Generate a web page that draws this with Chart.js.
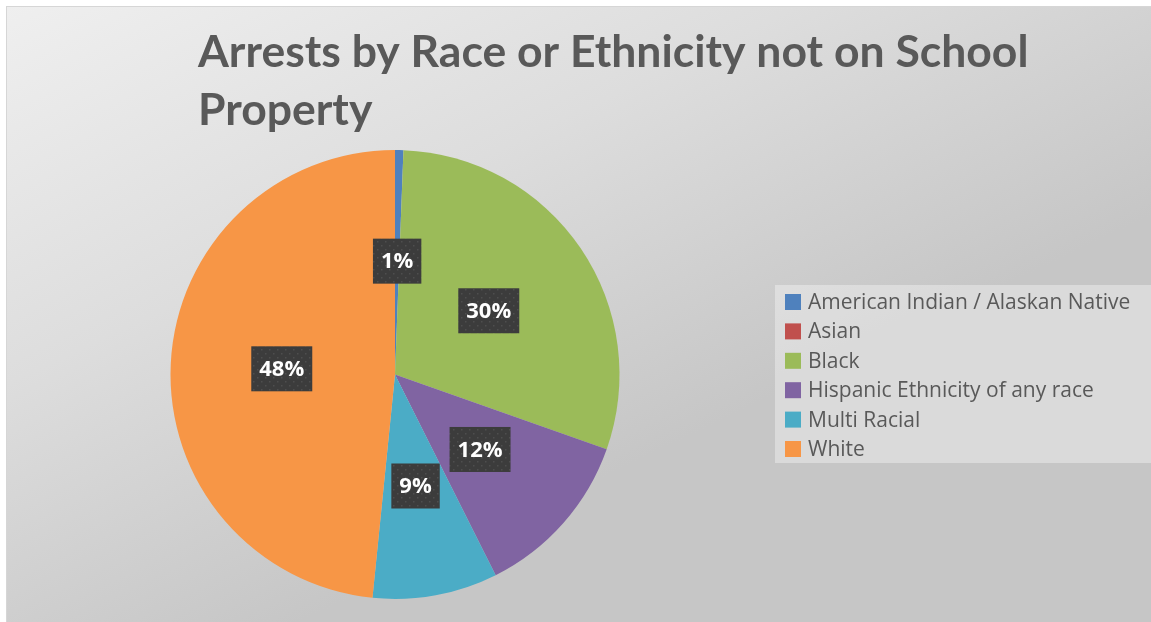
<!DOCTYPE html>
<html>
<head>
<meta charset="utf-8">
<script src="https://cdn.jsdelivr.net/npm/chart.js@4/dist/chart.umd.min.js"></script>
<style>
  html, body { margin: 0; padding: 0; background: #ffffff; overflow: hidden; }
  #wrap { position: relative; width: 1151px; height: 622px; }
  canvas { display: block; }
</style>
</head>
<body>
<div id="wrap"><canvas id="chart" width="1151" height="622"></canvas></div>
<script>
// Share of arrests (percent) by race or ethnicity, not on school property
const categories = [
  'American Indian / Alaskan Native',
  'Asian',
  'Black',
  'Hispanic Ethnicity of any race',
  'Multi Racial',
  'White'
];
const shares = [0.6, 0, 29.8, 12.2, 9.0, 48.4];
const sliceColors = ['#4F81BD', '#C0504D', '#9BBB59', '#8064A2', '#4BACC6', '#F79646'];
const titleLines = ['Arrests by Race or Ethnicity not on School', 'Property'];

const W = 1151, H = 622;

// Dark dotted fill used behind the percentage labels
function makeLabelPattern(ctx) {
  const tile = document.createElement('canvas');
  tile.width = 8; tile.height = 8;
  const t = tile.getContext('2d');
  t.fillStyle = '#3c3c3c';
  t.fillRect(0, 0, 8, 8);
  t.fillStyle = '#4e4e4e';
  t.fillRect(1, 1, 1.5, 1.5);
  t.fillRect(5, 5, 1.5, 1.5);
  return ctx.createPattern(tile, 'repeat');
}

const backgroundPlugin = {
  id: 'panelBackground',
  beforeDraw(chart) {
    const ctx = chart.ctx;
    ctx.save();
    ctx.fillStyle = '#ffffff';
    ctx.fillRect(0, 0, W, H);
    const g = ctx.createLinearGradient(6, 6, 300, H);
    g.addColorStop(0, '#efefef');
    g.addColorStop(0.5, '#dddddd');
    g.addColorStop(1, '#c6c6c6');
    ctx.fillStyle = g;
    ctx.fillRect(6, 6, W - 6, H - 6);
    ctx.strokeStyle = '#d6d6d6';
    ctx.lineWidth = 1;
    ctx.strokeRect(6.5, 6.5, W, H);
    ctx.restore();
  }
};

const titlePlugin = {
  id: 'panelTitle',
  afterDraw(chart) {
    const ctx = chart.ctx;
    ctx.save();
    ctx.fillStyle = '#595959';
    ctx.font = 'bold 44.5px Lato';
    ctx.textAlign = 'left';
    ctx.textBaseline = 'alphabetic';
    ctx.fillText(titleLines[0], 198, 67);
    ctx.fillText(titleLines[1], 198, 125);
    ctx.restore();
  }
};

const legendPlugin = {
  id: 'sideLegend',
  afterDraw(chart) {
    const ctx = chart.ctx;
    ctx.save();
    ctx.fillStyle = 'rgba(255,255,255,0.35)';
    ctx.fillRect(775, 285, W - 775, 178);
    ctx.font = '21px "Open Sans"';
    ctx.textAlign = 'left';
    ctx.textBaseline = 'middle';
    categories.forEach((name, i) => {
      const cy = 302 + i * 29.4;
      ctx.fillStyle = sliceColors[i];
      ctx.fillRect(785, cy - 8, 16, 16);
      ctx.fillStyle = '#595959';
      ctx.fillText(name, 808, cy + 1);
    });
    ctx.restore();
  }
};

const labelPlugin = {
  id: 'percentLabels',
  afterDatasetsDraw(chart) {
    const ctx = chart.ctx;
    const values = chart.data.datasets[0].data;
    const total = values.reduce((a, b) => a + b, 0);
    const meta = chart.getDatasetMeta(0);
    const pattern = makeLabelPattern(ctx);
    ctx.save();
    ctx.font = 'bold 22px "Open Sans"';
    ctx.textAlign = 'center';
    ctx.textBaseline = 'middle';
    meta.data.forEach((arc, i) => {
      if (!values[i]) return;
      const p = arc.getProps(['x', 'y', 'startAngle', 'endAngle', 'outerRadius'], true);
      const mid = (p.startAngle + p.endAngle) / 2;
      const r = p.outerRadius * 0.505;
      const cx = p.x + Math.cos(mid) * r;
      const cy = p.y + Math.sin(mid) * r;
      const text = Math.round(values[i] / total * 100) + '%';
      const bw = ctx.measureText(text).width + 16;
      const bh = 45;
      ctx.fillStyle = pattern;
      ctx.fillRect(cx - bw / 2, cy - bh / 2, bw, bh);
      ctx.fillStyle = '#ffffff';
      ctx.fillText(text, cx, cy + 1);
    });
    ctx.restore();
  }
};

new Chart(document.getElementById('chart'), {
  type: 'pie',
  data: {
    labels: categories,
    datasets: [{
      data: shares,
      backgroundColor: sliceColors,
      borderWidth: 0
    }]
  },
  options: {
    responsive: false,
    animation: false,
    devicePixelRatio: 1,
    layout: { padding: { left: 170.5, right: 531.5, top: 150, bottom: 23 } },
    plugins: {
      legend: { display: false },
      title: { display: false },
      tooltip: { enabled: false }
    }
  },
  plugins: [backgroundPlugin, labelPlugin, titlePlugin, legendPlugin]
});
</script>
</body>
</html>
